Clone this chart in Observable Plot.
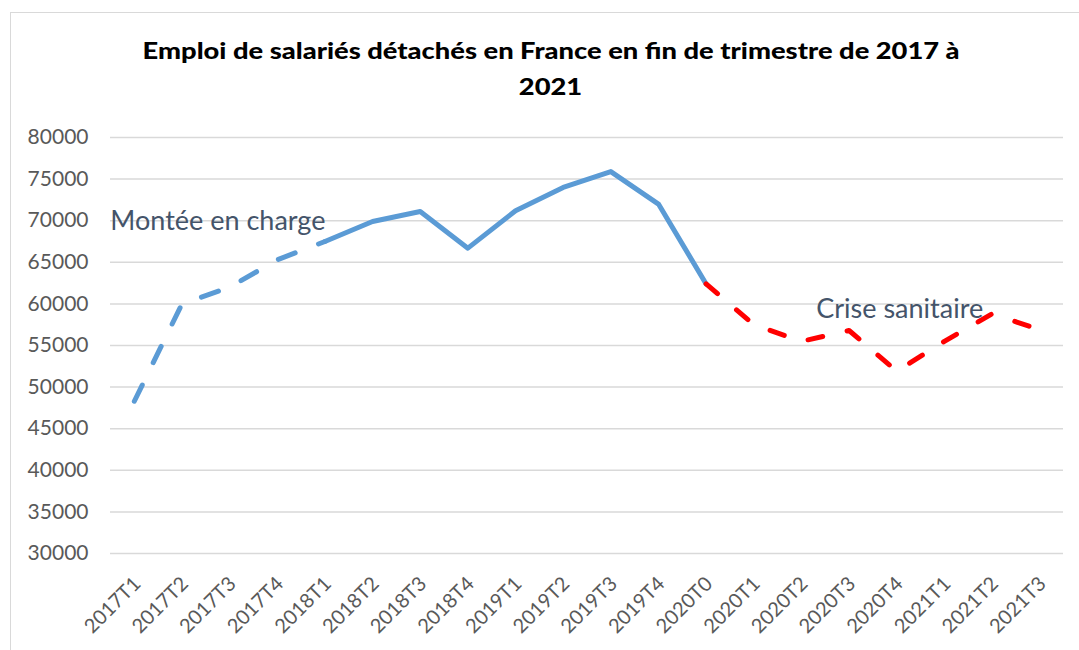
<!DOCTYPE html>
<html><head><meta charset="utf-8">
<script src="https://cdn.jsdelivr.net/npm/d3@7"></script>
<script src="https://cdn.jsdelivr.net/npm/@observablehq/plot@0.6"></script>
<style>
body{margin:0;background:#fff;font-family:Lato,"Open Sans",sans-serif}
#wrap{position:relative;width:1079px;height:650px;overflow:hidden;background:#fff}
#frame{position:absolute;left:10px;top:12px;width:1100px;height:700px;border:1px solid #d9d9d9}
#title{position:absolute;left:0;top:33px;width:1102px;text-align:center;font-weight:900;font-size:22px;line-height:36px;color:#000}
#title span{display:inline-block;white-space:nowrap;transform-origin:50% 50%}
#chart{position:absolute;left:0;top:110px}
</style></head><body>
<div id="wrap"><div id="frame"></div><div id="title"></div><div id="chart"></div></div>
<script>
const titleLines = ["Emploi de salariés détachés en France en fin de trimestre de 2017 à", "2021"];
const categories = ["2017T1","2017T2","2017T3","2017T4","2018T1","2018T2","2018T3","2018T4","2019T1","2019T2","2019T3","2019T4","2020T0","2020T1","2020T2","2020T3","2020T4","2021T1","2021T2","2021T3"];
const values = [48300,60000,62000,65300,67500,69900,71100,66700,71200,74000,75900,72000,62400,57500,55500,56800,51900,55500,58800,56900];
const yTicks = [30000,35000,40000,45000,50000,55000,60000,65000,70000,75000,80000];
const annotLabels = ["Montée en charge", "Crise sanitaire"];
const annotCats = ["2017T1", "2020T4"];
const annotValues = [69900, 59400];

// title: two lines, stretched horizontally to mimic the original's wide bold face
const titleEl = document.getElementById("title");
titleEl.innerHTML = titleLines.map(t => `<span>${t}</span>`).join("<br>");
const spans = titleEl.querySelectorAll("span");
const targetWidth = 817;
const k = targetWidth / spans[0].getBoundingClientRect().width;
spans.forEach(s => s.style.transform = `scaleX(${k})`);

const data = categories.map((c, i) => ({cat: c, v: values[i], i}));
const rampUp = data.filter(d => d.i <= 4);
const steady = data.filter(d => d.i >= 4 && d.i <= 12);
const crisis = data.filter(d => d.i >= 12);
const annots = annotLabels.map((t, i) => ({label: t, cat: annotCats[i], value: annotValues[i]}));

const chart = Plot.plot({
  width: 1079,
  height: 540,
  marginLeft: 110,
  marginRight: 16,
  marginTop: 27,
  marginBottom: 97,
  style: {fontFamily: "Lato, 'Open Sans', sans-serif", background: "transparent"},
  x: {type: "point", domain: categories, padding: 0.5, round: false, label: null},
  y: {domain: [30000, 80000], label: null},
  marks: [
    Plot.ruleY(yTicks, {stroke: "#d9d9d9", strokeWidth: 1.5}),
    Plot.axisY({ticks: yTicks, tickSize: 0, tickPadding: 22, fontSize: 21, fill: "#595959", tickFormat: d => String(d), label: null}),
    Plot.axisX({tickSize: 0, tickRotate: -45, tickPadding: 27, fontSize: 20, fill: "#595959", label: null, textAnchor: "end", dx: 3}),
    Plot.line(rampUp, {x: "cat", y: "v", stroke: "#5b9bd5", strokeWidth: 5, strokeDasharray: "18,25", strokeLinecap: "round"}),
    Plot.line(steady, {x: "cat", y: "v", stroke: "#5b9bd5", strokeWidth: 5, strokeLinejoin: "round"}),
    Plot.line(crisis, {x: "cat", y: "v", stroke: "#ff0000", strokeWidth: 5, strokeDasharray: "15,25", strokeLinecap: "round"}),
    Plot.text(annots.slice(0, 1), {x: "cat", y: "value", text: "label", textAnchor: "start", dx: -24, fontSize: 27, fill: "#44546a"}),
    Plot.text(annots.slice(1), {x: "cat", y: "value", text: "label", textAnchor: "middle", dx: 3, fontSize: 27, fill: "#44546a"})
  ]
});
document.getElementById("chart").appendChild(chart);
</script>
</body></html>
